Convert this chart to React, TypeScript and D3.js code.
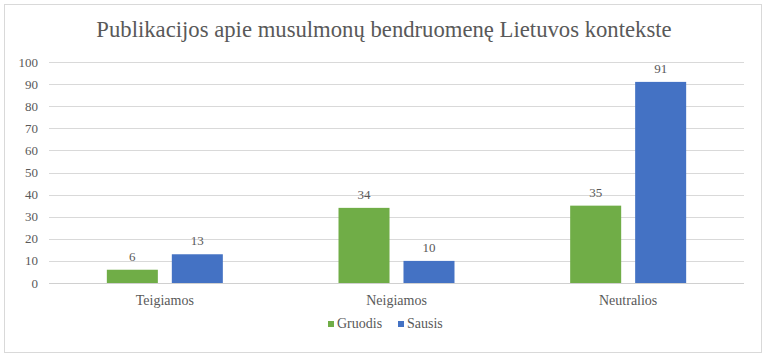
import React, { useEffect, useRef } from "react";
import * as d3 from "d3";

const categories = ["Teigiamos", "Neigiamos", "Neutralios"];
const seriesNames = ["Gruodis", "Sausis"];
const gruodis = [6, 34, 35];
const sausis = [13, 10, 91];
const yTicks = [0, 10, 20, 30, 40, 50, 60, 70, 80, 90, 100];
const colors = ["#70AD47", "#4472C4"];

const W = 768;
const H = 359;

export default function App() {
  const ref = useRef<SVGSVGElement>(null);

  useEffect(() => {
    const svg = d3.select(ref.current);
    svg.selectAll("*").remove();

    const left = 49, right = 744, top = 62, bottom = 283;
    const textColor = "#595959";

    svg
      .append("rect")
      .attr("x", 4.5)
      .attr("y", 4.5)
      .attr("width", 757)
      .attr("height", 348)
      .attr("fill", "#fff")
      .attr("stroke", "#d9d9d9");

    svg
      .append("text")
      .attr("x", W / 2)
      .attr("y", 37)
      .attr("text-anchor", "middle")
      .attr("font-size", 22.7)
      .attr("fill", textColor)
      .text("Publikacijos apie musulmonų bendruomenę Lietuvos kontekste");

    const y = d3.scaleLinear().domain([0, 100]).range([bottom, top]);
    const x0 = d3.scaleBand().domain(categories).range([left, right]);
    const x1 = d3
      .scaleBand()
      .domain(seriesNames)
      .range([0, x0.bandwidth()])
      .paddingInner(0.215)
      .paddingOuter(0.89);

    // grid
    svg
      .append("g")
      .selectAll("line")
      .data(yTicks)
      .join("line")
      .attr("x1", left)
      .attr("x2", right)
      .attr("y1", (d) => Math.round(y(d)) + 0.5)
      .attr("y2", (d) => Math.round(y(d)) + 0.5)
      .attr("stroke", (d) => (d === 0 ? "#d0d0d0" : "#d9d9d9"))
      .attr("stroke-width", 1);

    svg
      .append("g")
      .selectAll("text")
      .data(yTicks)
      .join("text")
      .attr("x", 38)
      .attr("y", (d) => y(d))
      .attr("dy", "0.35em")
      .attr("text-anchor", "end")
      .attr("font-size", 13)
      .attr("fill", textColor)
      .text((d) => d);

    const rows = categories.map((c, i) => ({ cat: c, vals: [gruodis[i], sausis[i]] }));

    const groups = svg
      .append("g")
      .selectAll("g")
      .data(rows)
      .join("g")
      .attr("transform", (d) => `translate(${x0(d.cat)},0)`);

    groups
      .selectAll("rect")
      .data((d) => d.vals.map((v, j) => ({ v, s: seriesNames[j], j })))
      .join("rect")
      .attr("x", (d) => x1(d.s)!)
      .attr("width", x1.bandwidth())
      .attr("y", (d) => y(d.v))
      .attr("height", (d) => y(0) - y(d.v))
      .attr("fill", (d) => colors[d.j]);

    groups
      .selectAll("text.val")
      .data((d) => d.vals.map((v, j) => ({ v, s: seriesNames[j], j })))
      .join("text")
      .attr("class", "val")
      .attr("x", (d) => x1(d.s)! + x1.bandwidth() / 2)
      .attr("y", (d) => y(d.v) - 9)
      .attr("text-anchor", "middle")
      .attr("font-size", 13)
      .attr("fill", textColor)
      .text((d) => d.v);

    svg
      .append("g")
      .selectAll("text")
      .data(categories)
      .join("text")
      .attr("x", (d) => x0(d)! + x0.bandwidth() / 2)
      .attr("y", 305)
      .attr("text-anchor", "middle")
      .attr("font-size", 14)
      .attr("fill", textColor)
      .text((d) => d);

    // legend
    const legendX = [328, 398];
    const lg = svg
      .append("g")
      .selectAll("g")
      .data(seriesNames)
      .join("g")
      .attr("transform", (d, i) => `translate(${legendX[i]},328)`);
    lg.append("rect")
      .attr("x", 0)
      .attr("y", -7)
      .attr("width", 6)
      .attr("height", 6)
      .attr("fill", (d, i) => colors[i]);
    lg.append("text")
      .attr("x", 9)
      .attr("y", 0)
      .attr("font-size", 14)
      .attr("fill", textColor)
      .text((d) => d);
  }, []);

  return (
    <svg
      ref={ref}
      width={W}
      height={H}
      style={{
        position: "absolute",
        left: 0,
        top: 0,
        background: "#fff",
        fontFamily: '"Times New Roman", Times, "Liberation Serif", serif',
      }}
    />
  );
}
